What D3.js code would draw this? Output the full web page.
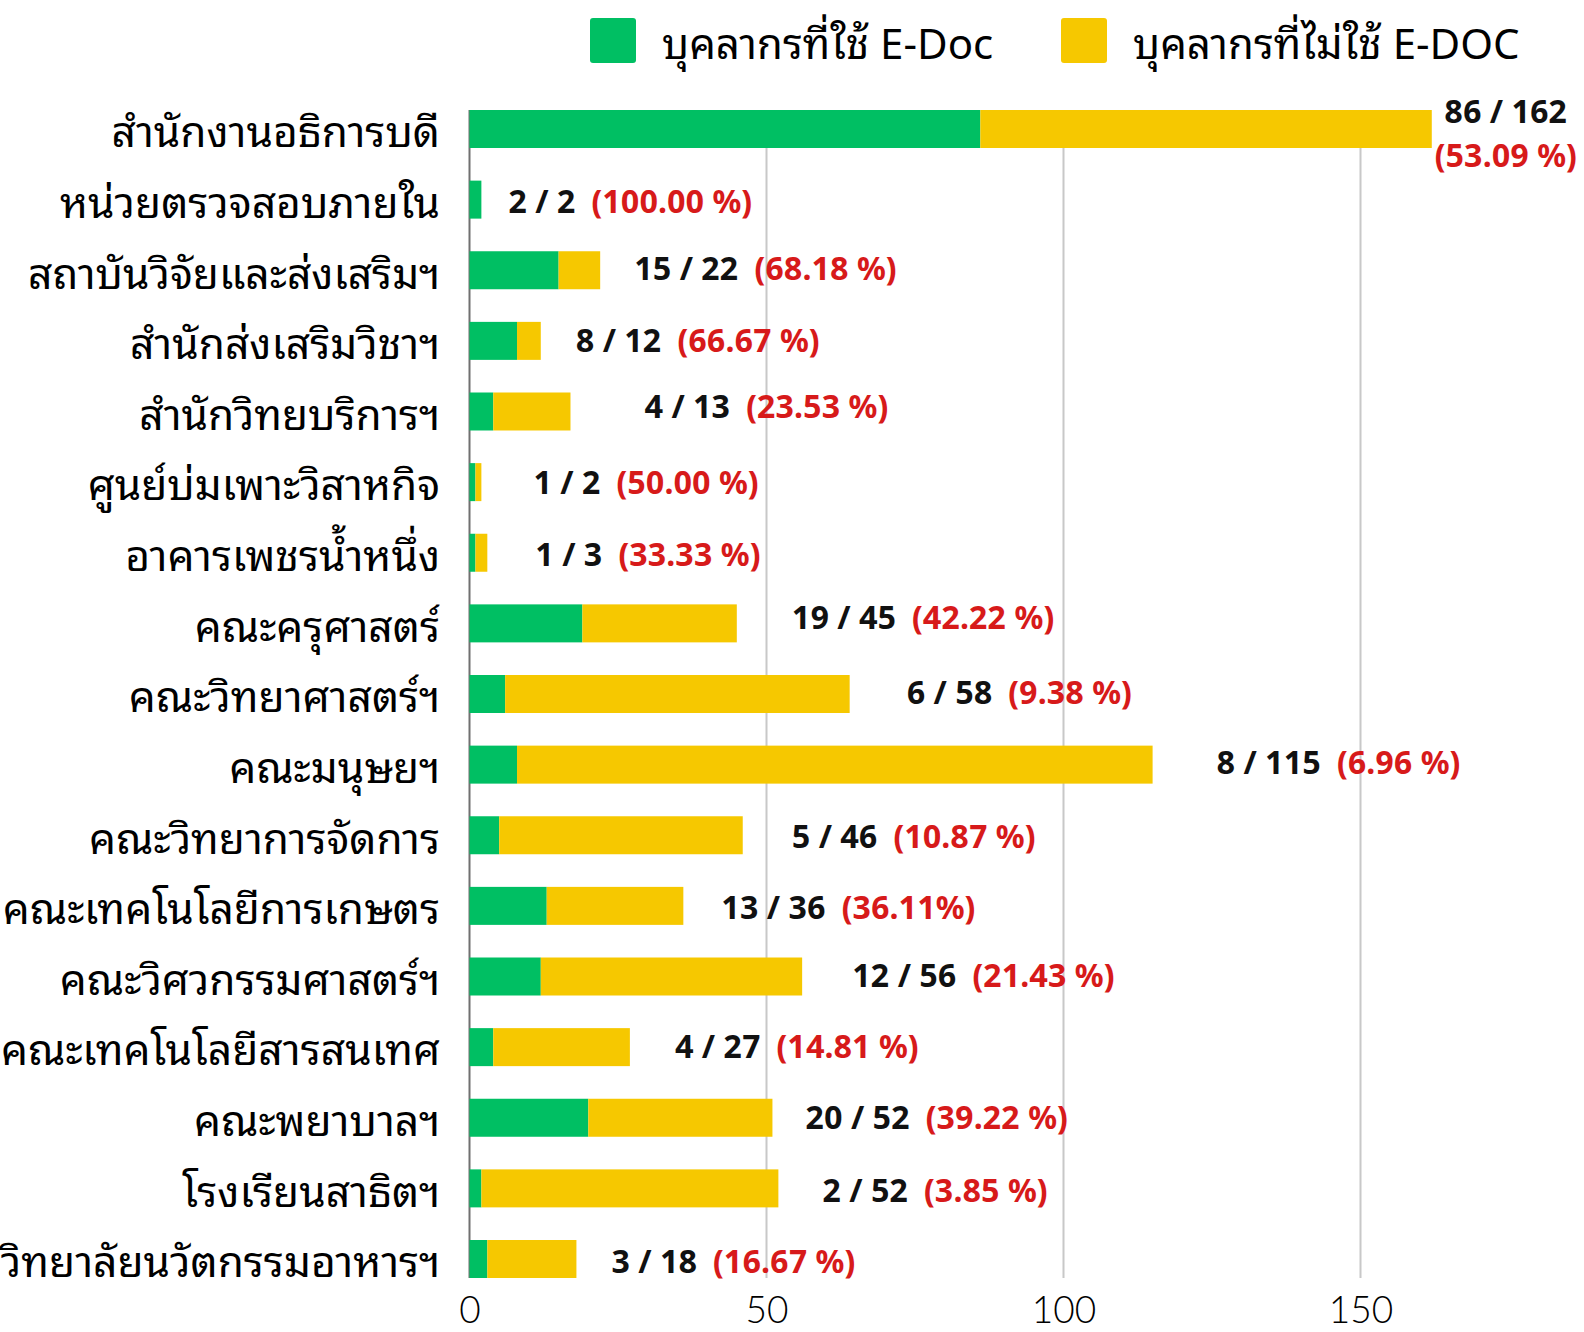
<!DOCTYPE html>
<html>
<head>
<meta charset="utf-8">
<script src="https://cdn.jsdelivr.net/npm/d3@7"></script>
<style>
  body { margin: 0; background: #fff; }
  text { font-family: "Noto Sans Thai Looped", "Noto Sans Thai", "Noto Sans", sans-serif; }
</style>
</head>
<body>
<div id="chart"></div>
<script>
var width = 1584;
var height = 1332;

// หน่วยงาน
var units = [
  'สำนักงานอธิการบดี', 'หน่วยตรวจสอบภายใน', 'สถาบันวิจัยและส่งเสริมฯ', 'สำนักส่งเสริมวิชาฯ',
  'สำนักวิทยบริการฯ', 'ศูนย์บ่มเพาะวิสาหกิจ', 'อาคารเพชรน้ำหนึ่ง', 'คณะครุศาสตร์',
  'คณะวิทยาศาสตร์ฯ', 'คณะมนุษยฯ', 'คณะวิทยาการจัดการ', 'คณะเทคโนโลยีการเกษตร',
  'คณะวิศวกรรมศาสตร์ฯ', 'คณะเทคโนโลยีสารสนเทศ', 'คณะพยาบาลฯ', 'โรงเรียนสาธิตฯ',
  'วิทยาลัยนวัตกรรมอาหารฯ'
]
// บุคลากรที่ใช้ / ไม่ใช้ E-Doc
var usedDoc    = [86, 2, 15, 8, 4, 1, 1, 19, 6, 8, 5, 13, 12, 4, 20, 2, 3]
var notUsedDoc = [76, 0, 7, 4, 13, 1, 2, 26, 58, 107, 41, 23, 44, 23, 31, 50, 15]
// ข้อความกำกับ (ตามต้นฉบับ)
var countText = ['86 / 162', '2 / 2', '15 / 22', '8 / 12', '4 / 13', '1 / 2', '1 / 3', '19 / 45',
  '6 / 58', '8 / 115', '5 / 46', '13 / 36', '12 / 56', '4 / 27', '20 / 52', '2 / 52', '3 / 18']
var pctText = ['(53.09 %)', '(100.00 %)', '(68.18 %)', '(66.67 %)', '(23.53 %)', '(50.00 %)',
  '(33.33 %)', '(42.22 %)', '(9.38 %)', '(6.96 %)', '(10.87 %)', '(36.11%)', '(21.43 %)',
  '(14.81 %)', '(39.22 %)', '(3.85 %)', '(16.67 %)']
var xTicks = [0, 50, 100, 150]
var seriesNames = ['บุคลากรที่ใช้ E-Doc', 'บุคลากรที่ไม่ใช้ E-DOC']

// ระยะห่างป้ายจากปลายแท่ง (วางด้วยมือในต้นฉบับ)
var labelGap = [0, 27, 34, 35, 74, 52, 48, 55, 57, 64, 49, 38, 50, 45, 33, 44, 35]
var labelLift = [0, 2, -1, 0, -5, 1, 2, -6, -1, -2, 2, 2, -1, 0, 0, 2, 3]

var colors = ['#00bf63', '#f6c800']

var rows = units.map(function (u, i) {
  return { unit: u, used: usedDoc[i], notUsed: notUsedDoc[i], i: i }
})

var svg = d3.select('#chart')
  .append('svg')
  .attr('width', width)
  .attr('height', height)

var x = d3.scaleLinear()
  .domain([0, 180])
  .range([469.5, 469.5 + 180 * 5.94])

var y = d3.scaleBand()
  .domain(units)
  .range([110, 1278])
  .paddingInner(0.462)
  .paddingOuter(0)

// เส้นกริด
svg.append('g')
  .selectAll('line')
  .data(xTicks.slice(1))
  .enter()
  .append('line')
  .attr('x1', d => x(d))
  .attr('x2', d => x(d))
  .attr('y1', 110)
  .attr('y2', 1278)
  .style('stroke', '#c8c8c8')
  .style('stroke-width', 2)

// แกนซ้าย
svg.append('line')
  .attr('x1', x(0)).attr('x2', x(0))
  .attr('y1', 110).attr('y2', 1278)
  .style('stroke', '#707070')
  .style('stroke-width', 2)

// แท่งซ้อน
var stacked = d3.stack().keys(['used', 'notUsed'])(rows)

svg.append('g')
  .selectAll('g')
  .data(stacked)
  .enter()
  .append('g')
  .style('fill', (d, i) => colors[i])
  .selectAll('rect')
  .data(d => d)
  .enter()
  .append('rect')
  .attr('x', d => x(d[0]))
  .attr('y', d => y(d.data.unit))
  .attr('width', d => x(d[1]) - x(d[0]))
  .attr('height', y.bandwidth())

// ชื่อหน่วยงาน
svg.append('g')
  .selectAll('text')
  .data(units)
  .enter()
  .append('text')
  .attr('x', 440)
  .attr('y', d => y(d) + y.bandwidth() / 2)
  .attr('dy', '0.43em')
  .attr('text-anchor', 'end')
  .style('font-size', '42.5px')
  .style('fill', '#000')
  .text(d => d)

// ป้ายค่า
var labels = svg.append('g')
  .selectAll('text')
  .data(rows.slice(1))
  .enter()
  .append('text')
  .attr('x', d => x(d.used + d.notUsed) + labelGap[d.i])
  .attr('y', d => y(d.unit) + y.bandwidth() / 2 + labelLift[d.i])
  .attr('dy', '0.35em')
  .style('font-size', '32px')
  .style('font-weight', 'bold')

labels.append('tspan')
  .style('fill', '#111')
  .text(d => countText[d.i])
labels.append('tspan')
  .attr('dx', 16)
  .style('fill', '#d71a1a')
  .text(d => pctText[d.i])

// แถวแรก ป้ายสองบรรทัด
var first = rows[0]
var firstX = x(first.used + first.notUsed) + 74
var firstLabel = svg.append('text')
  .attr('text-anchor', 'middle')
  .style('font-size', '32px')
  .style('font-weight', 'bold')
firstLabel.append('tspan')
  .attr('x', firstX)
  .attr('y', 123)
  .style('fill', '#111')
  .text(countText[0])
firstLabel.append('tspan')
  .attr('x', firstX)
  .attr('y', 167)
  .style('fill', '#d71a1a')
  .text(pctText[0])

// แกน x
var xAxis = svg.append('g')
  .attr('transform', 'translate(0, 1278)')
  .call(d3.axisBottom(x).tickValues(xTicks).tickSize(0).tickPadding(19))
xAxis.select('.domain').remove()
xAxis.selectAll('text')
  .style('font-size', '37px')
  .style('font-weight', 300)
  .style('fill', '#000')
  .style('font-family', 'Lato, "Noto Sans", sans-serif')

// คำอธิบาย
var legend = svg.append('g')
  .selectAll('g')
  .data(seriesNames)
  .enter()
  .append('g')
  .attr('transform', (d, i) => 'translate(' + [590, 1061][i] + ', 18)')

legend.append('rect')
  .attr('width', 46)
  .attr('height', 45)
  .attr('rx', 3)
  .style('fill', (d, i) => colors[i])

legend.append('text')
  .attr('x', 72)
  .attr('y', 41)
  .style('font-size', '42px')
  .style('fill', '#000')
  .text(d => d)
</script>
</body>
</html>
